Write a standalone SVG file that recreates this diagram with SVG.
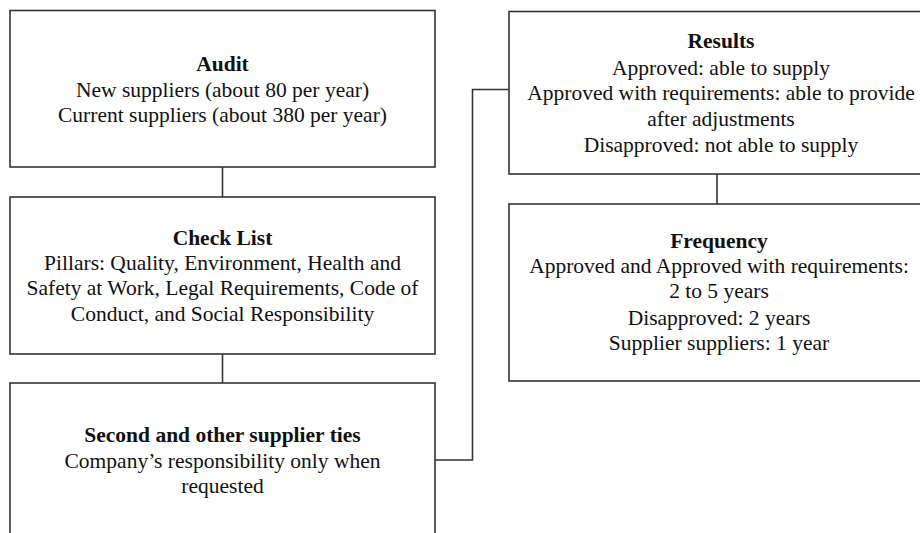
<svg xmlns="http://www.w3.org/2000/svg" width="920" height="533" viewBox="0 0 920 533">
<style>
.box{fill:#fff;stroke:#333;stroke-width:1.6}
.conn{fill:none;stroke:#333;stroke-width:1.6}
text{font-family:"Liberation Serif","Times New Roman",serif;font-size:21.5px;fill:#111;text-anchor:middle}
.t{font-weight:bold}
</style>
<rect width="920" height="533" fill="#fff"/>
<g id="connectors">
<line class="conn" x1="222.5" y1="167" x2="222.5" y2="197"/>
<line class="conn" x1="222.5" y1="354" x2="222.5" y2="383"/>
<polyline class="conn" points="435,460 472.5,460 472.5,89.5 509,89.5"/>
<line class="conn" x1="717" y1="174" x2="717" y2="204"/>
</g>
<g id="audit">
<rect class="box" x="10" y="10.5" width="425" height="156.5"/>
<text class="t" x="222.5" y="71">Audit</text>
<text x="222.5" y="97">New suppliers (about 80 per year)</text>
<text x="222.5" y="122">Current suppliers (about 380 per year)</text>
</g>
<g id="checklist">
<rect class="box" x="10" y="197" width="425" height="157"/>
<text class="t" x="222.5" y="245">Check List</text>
<text x="222.5" y="270">Pillars: Quality, Environment, Health and</text>
<text x="222.5" y="295">Safety at Work, Legal Requirements, Code of</text>
<text x="222.5" y="321">Conduct, and Social Responsibility</text>
</g>
<g id="second">
<rect class="box" x="10" y="383" width="425" height="170"/>
<text class="t" x="222.5" y="442">Second and other supplier ties</text>
<text x="222.5" y="468">Company’s responsibility only when</text>
<text x="222.5" y="493">requested</text>
</g>
<g id="results">
<rect class="box" x="509" y="11.5" width="416" height="162.5"/>
<text class="t" x="721" y="48">Results</text>
<text x="721" y="75">Approved: able to supply</text>
<text x="721" y="100">Approved with requirements: able to provide</text>
<text x="721" y="126">after adjustments</text>
<text x="721" y="152">Disapproved: not able to supply</text>
</g>
<g id="frequency">
<rect class="box" x="509" y="204" width="416" height="177"/>
<text class="t" x="719" y="248">Frequency</text>
<text x="719" y="273">Approved and Approved with requirements:</text>
<text x="719" y="298">2 to 5 years</text>
<text x="719" y="325">Disapproved: 2 years</text>
<text x="719" y="350">Supplier suppliers: 1 year</text>
</g>
</svg>
